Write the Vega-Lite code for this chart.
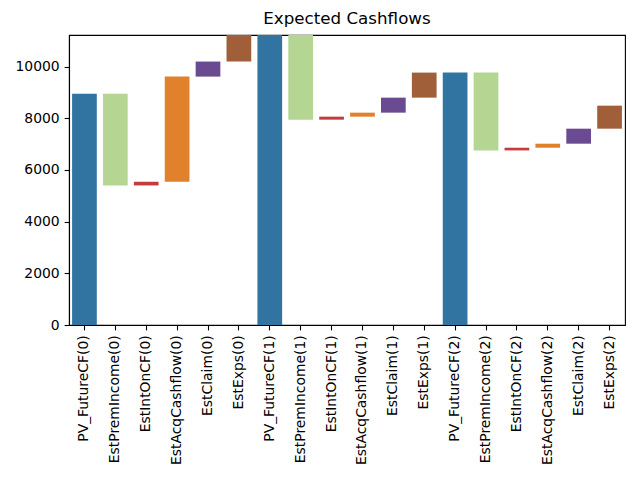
{
  "$schema": "https://vega.github.io/schema/vega-lite/v6.json",
  "autosize": "none",
  "width": 556,
  "height": 290,
  "padding": {"left": 69, "top": 35, "right": 15, "bottom": 155},
  "background": "white",
  "title": {"text": "Expected Cashflows", "font": "DejaVu Sans", "fontSize": 16.7, "fontWeight": "normal", "color": "black", "offset": 7, "anchor": "middle"},
  "config": {
    "view": {"stroke": "black", "strokeWidth": 1.1},
    "axis": {"grid": false, "domainColor": "black", "tickColor": "black", "labelColor": "black", "labelFont": "DejaVu Sans", "labelFontSize": 13.9, "tickSize": 4.9, "domainWidth": 1.1, "tickWidth": 1.1, "labelPadding": 4.9, "title": null}
  },
  "data": {"values": [
    {"label": "PV_FutureCF(0)", "kind": "PV", "start": 0, "end": 8950},
    {"label": "EstPremIncome(0)", "kind": "Prem", "start": 8950, "end": 5400},
    {"label": "EstIntOnCF(0)", "kind": "Int", "start": 5400, "end": 5543},
    {"label": "EstAcqCashflow(0)", "kind": "Acq", "start": 5543, "end": 9612},
    {"label": "EstClaim(0)", "kind": "Claim", "start": 9612, "end": 10194},
    {"label": "EstExps(0)", "kind": "Exps", "start": 10194, "end": 11600},
    {"label": "PV_FutureCF(1)", "kind": "PV", "start": 0, "end": 11600},
    {"label": "EstPremIncome(1)", "kind": "Prem", "start": 11600, "end": 7946},
    {"label": "EstIntOnCF(1)", "kind": "Int", "start": 7946, "end": 8062},
    {"label": "EstAcqCashflow(1)", "kind": "Acq", "start": 8062, "end": 8217},
    {"label": "EstClaim(1)", "kind": "Claim", "start": 8217, "end": 8798},
    {"label": "EstExps(1)", "kind": "Exps", "start": 8798, "end": 9767},
    {"label": "PV_FutureCF(2)", "kind": "PV", "start": 0, "end": 9767},
    {"label": "EstPremIncome(2)", "kind": "Prem", "start": 9767, "end": 6756},
    {"label": "EstIntOnCF(2)", "kind": "Int", "start": 6756, "end": 6860},
    {"label": "EstAcqCashflow(2)", "kind": "Acq", "start": 6860, "end": 7016},
    {"label": "EstClaim(2)", "kind": "Claim", "start": 7016, "end": 7597},
    {"label": "EstExps(2)", "kind": "Exps", "start": 7597, "end": 8488}
  ]},
  "mark": {"type": "bar", "clip": true},
  "encoding": {
    "x": {"field": "label", "type": "nominal", "sort": null,
          "scale": {"paddingInner": 0.2, "paddingOuter": 0.1},
          "axis": {"labelAngle": -90}},
    "y": {"field": "start", "type": "quantitative",
          "scale": {"domain": [0, 11222], "nice": false, "zero": true},
          "axis": {"values": [0, 2000, 4000, 6000, 8000, 10000], "format": "d"}},
    "y2": {"field": "end"},
    "color": {"field": "kind", "type": "nominal", "legend": null,
              "scale": {"domain": ["PV", "Prem", "Int", "Acq", "Claim", "Exps"],
                        "range": ["#3274a1", "#b5d693", "#c43b3b", "#e1812c", "#6a4a91", "#a05f38"]}}
  }
}
